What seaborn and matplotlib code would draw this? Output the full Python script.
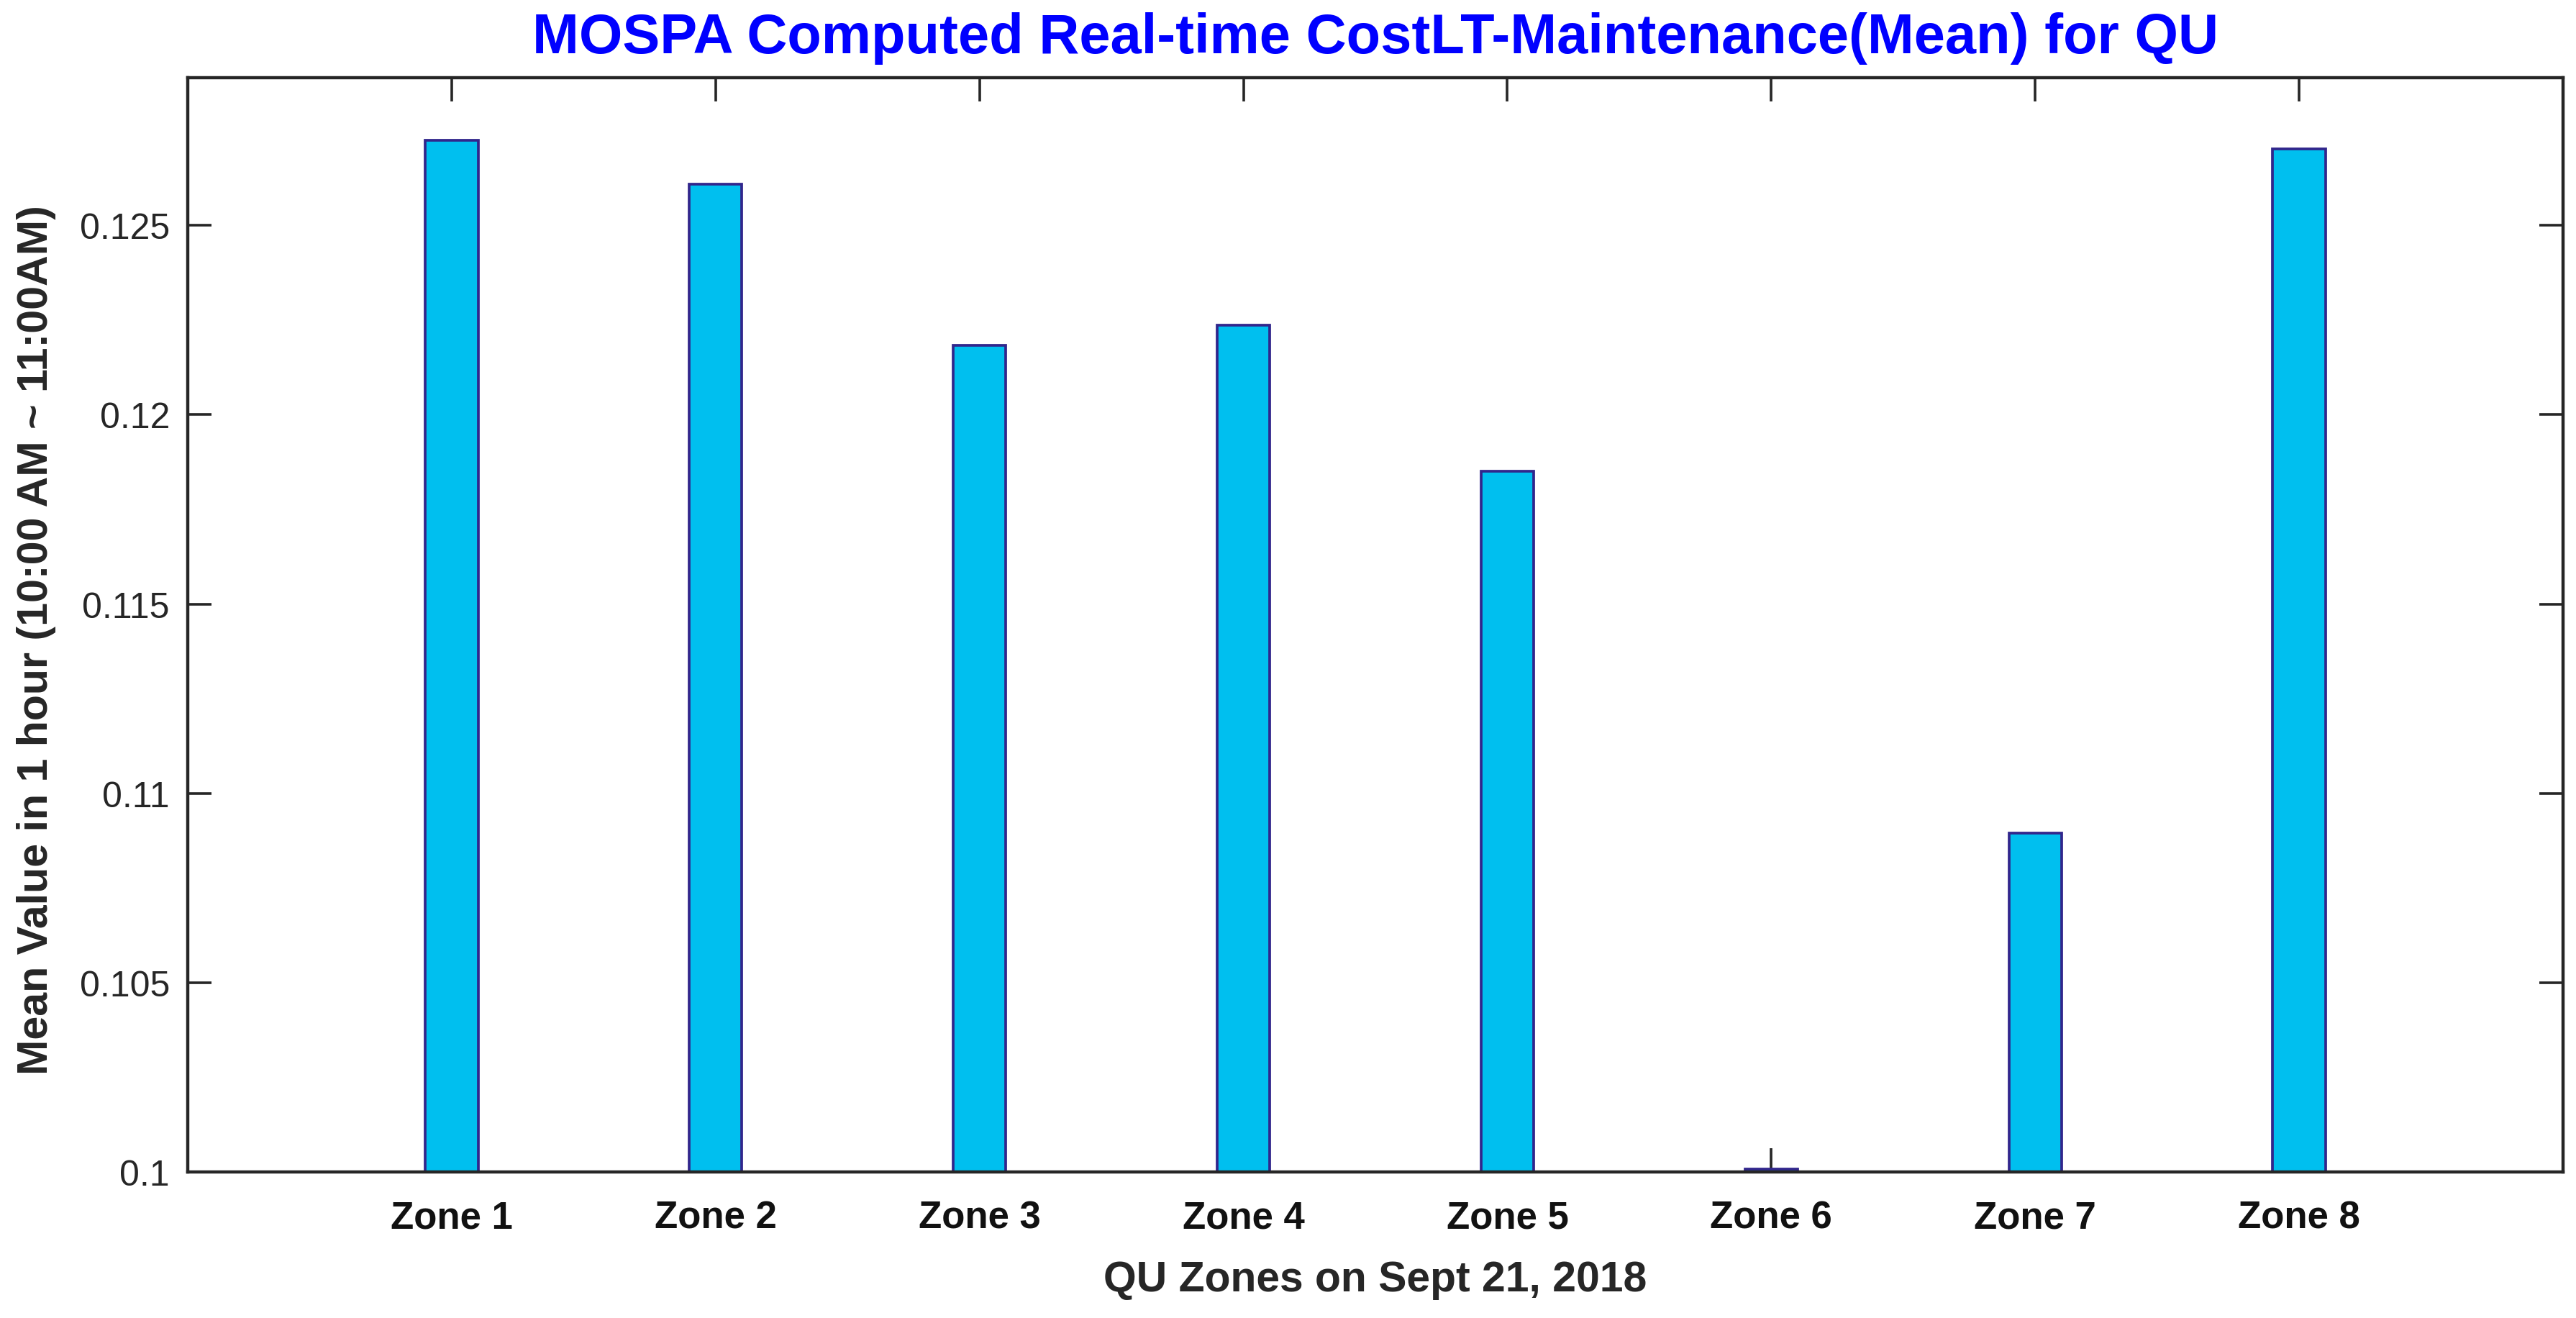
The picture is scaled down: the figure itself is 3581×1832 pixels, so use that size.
import matplotlib
matplotlib.use("Agg")
import matplotlib.pyplot as plt
import seaborn as sns
import pandas as pd

# ---- data ----
zones = ["Zone 1", "Zone 2", "Zone 3", "Zone 4", "Zone 5", "Zone 6", "Zone 7", "Zone 8"]
mean_values = [0.12725, 0.12609, 0.12184, 0.12237, 0.11851, 0.10008, 0.10895, 0.12702]
y_ticks = [0.1, 0.105, 0.11, 0.115, 0.12, 0.125]
y_tick_labels = ["0.1", "0.105", "0.11", "0.115", "0.12", "0.125"]

title = "MOSPA Computed Real-time CostLT-Maintenance(Mean) for QU"
x_label = "QU Zones on Sept 21, 2018"
y_label = "Mean Value in 1 hour (10:00 AM ~ 11:00AM)"

df = pd.DataFrame({"zone": zones, "mean": mean_values})

sns.set_theme(style="white")
plt.rcParams["font.family"] = ["Liberation Sans", "DejaVu Sans"]

W, H, DPI = 3581, 1833, 200
fig = plt.figure(figsize=(W / DPI, H / DPI), dpi=DPI)
fig.patch.set_facecolor("white")

left, right, top, bottom = 261, 3563, 109, 1630
ax = fig.add_axes([left / W, 1 - bottom / H, (right - left) / W, (bottom - top) / H])

sns.barplot(data=df, x="zone", y="mean", color="#00BFEF", edgecolor="#31268C",
            linewidth=1.35, width=0.2, saturation=1, ax=ax)

ax.set_xlim(-1, 8)
ax.set_ylim(0.1, 0.1289)
ax.set_yticks(y_ticks)
ax.set_yticklabels(y_tick_labels)
ax.set_xlabel("")
ax.set_ylabel("")

for s in ax.spines.values():
    s.set_visible(True)
    s.set_linewidth(1.6)
    s.set_color("#262626")

ax.tick_params(axis="both", direction="in", length=12, width=1.3, color="#262626",
               top=True, right=True, bottom=True, left=True)
ax.tick_params(axis="x", pad=14, labelsize=19)
ax.tick_params(axis="y", pad=9, labelsize=18)
for t in ax.get_xticklabels():
    t.set_fontweight("bold")
    t.set_color("#111111")
for t in ax.get_yticklabels():
    t.set_color("#262626")

cx = (left + right) / 2 / W
fig.text(cx, 1 - 74 / H, title, ha="center", va="baseline", fontsize=28,
         fontweight="bold", color="#0000FF")
fig.text(cx, 1 - 1795 / H, x_label, ha="center", va="baseline", fontsize=21.2,
         fontweight="bold", color="#262626")
fig.text(51 / W, 1 - 890 / H, y_label, ha="center", va="center",
         rotation=90, fontsize=21.3, fontweight="bold", color="#262626")

fig.savefig("out.png", dpi=DPI, facecolor="white")
